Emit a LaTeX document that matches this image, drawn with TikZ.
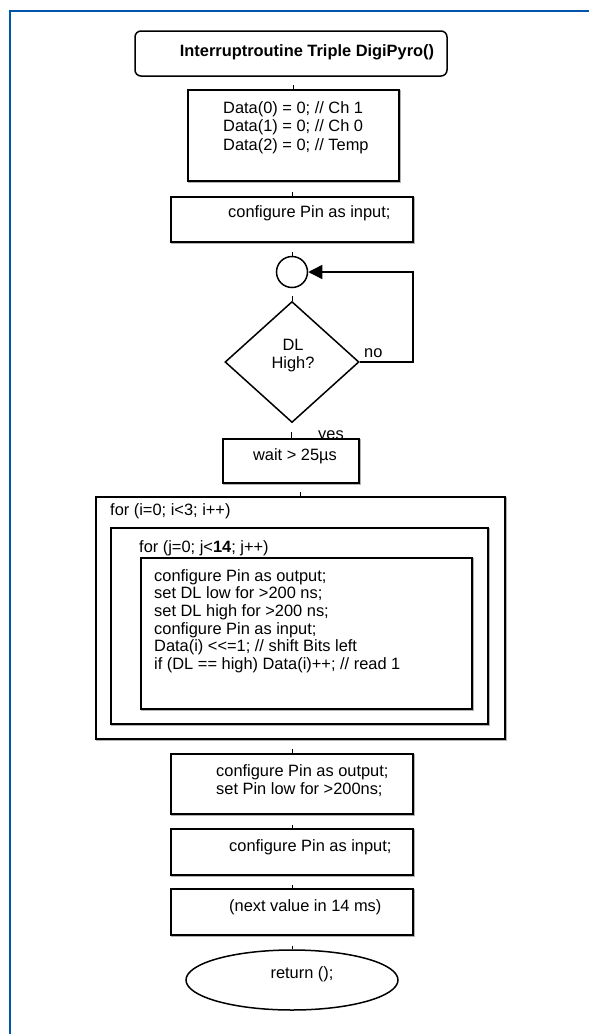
\documentclass[tikz,border=0pt]{standalone}
\usepackage{fontspec}
\setmainfont{Liberation Sans}
\usetikzlibrary{shapes.geometric,arrows.meta}
\definecolor{frameblue}{RGB}{0,85,170}
\tikzset{
  x=1pt, y=-1pt,
  every node/.style={font=\fontsize{16.4}{18.5}\selectfont, inner sep=0pt},
  softshadow/.style={preaction={draw=black!30, line width=1.2pt,
      transform canvas={shift={(1pt,-1pt)}}}},
  stepbox/.style={draw, rectangle, line width=1.5pt, fill=white, softshadow},
  startbox/.style={draw, rectangle, rounded corners=6pt, line width=1.5pt, fill=white},
  decide/.style={draw, diamond, line width=1.5pt, fill=white},
  joint/.style={draw, circle, line width=1.5pt, fill=white},
  endbox/.style={draw, ellipse, line width=1.5pt, fill=white},
  txt/.style={anchor=west, align=left},
  tick/.style={line width=1pt},
  flow/.style={line width=1.5pt, -{Triangle[length=14pt,width=14pt]}}
}
\begin{document}
\begin{tikzpicture}
\useasboundingbox (0,0) rectangle (589,1034);

% page frame
\draw[frameblue, line width=2pt] (589,11) -- (10,11) -- (10,1034);

% start
\node[startbox, minimum width=312pt, minimum height=45pt] (start) at (291,53.5) {};
\node[font=\fontsize{16.4}{18.5}\selectfont\bfseries] (starttxt) at (307,52) {Interruptroutine Triple DigiPyro()};

% clear data
\node[stepbox, minimum width=211pt, minimum height=91pt] (init) at (293.5,135.5) {};
\node[txt] (inittxt) at (223,127.5) {Data(0) = 0; // Ch 1\\Data(1) = 0; // Ch 0\\Data(2) = 0; // Temp};
\draw[tick] (init.north) -- ++(0,-4);

% pin as input
\node[stepbox, minimum width=242pt, minimum height=45pt] (inA) at (292,219.5) {};
\node[txt] (inAtxt) at (228,213) {configure Pin as input;};
\draw[tick] (inA.north) -- ++(0,-4);

% wait loop
\node[joint, minimum size=31pt] (join) at (292,272) {};
\draw[tick] (join.north) -- ++(0,-4);
\node[decide, minimum width=134pt, minimum height=121pt] (dec) at (292,362) {};
\node[align=center] (dectxt) at (293,355.5) {DL\\High?};
\draw[tick] (dec.north) -- ++(0,-5);
\coordinate (loopc) at (413,362);
\draw[flow] (dec.east) -- (loopc) |- (join.east);
\node[anchor=west] (no) at (364,353) {no};
\node (yes) at (331,437) {yes};

% wait
\node[stepbox, minimum width=136pt, minimum height=44pt] (wait) at (291,461) {};
\node (waittxt) at (295,456) {wait > 25µs};
\draw[tick] (wait.north) -- ++(0,-6);

% read loops
\node[stepbox, minimum width=409pt, minimum height=242pt] (outer) at (300.5,618) {};
\node[txt] (outertxt) at (110,511) {for (i=0; i<3; i++)};
\draw[tick] (outer.north) -- ++(0,-4);
\node[stepbox, minimum width=377pt, minimum height=196pt] (inner) at (299.5,626) {};
\node[txt] (innertxt) at (139,548) {for (j=0; j<\textbf{14}; j++)};
\node[stepbox, minimum width=331pt, minimum height=151pt] (body) at (306.5,633.5) {};
\node[txt, font=\fontsize{16.4}{17.6}\selectfont] (bodytxt) at (154,621) {configure Pin as output;\\set DL low for >200 ns;\\set DL high for >200 ns;\\configure Pin as input;\\Data(i) <{}<=1; // shift Bits left\\if (DL == high) Data(i)++; // read 1};

% finish
\node[stepbox, minimum width=242pt, minimum height=60pt] (outB) at (292,784) {};
\node[txt, font=\fontsize{16.4}{18}\selectfont] (outBtxt) at (216,781) {configure Pin as output;\\set Pin low for >200ns;};
\draw[tick] (outB.north) -- ++(0,-4);
\node[stepbox, minimum width=242pt, minimum height=46pt] (inB) at (292,852) {};
\node[txt] (inBtxt) at (229,847) {configure Pin as input;};
\draw[tick] (inB.north) -- ++(0,-3);
\node[stepbox, minimum width=242pt, minimum height=46pt] (next) at (292,912) {};
\node[txt] (nexttxt) at (229,907) {(next value in 14 ms)};
\draw[tick] (next.north) -- ++(0,-3);

% return
\node[endbox, minimum width=212pt, minimum height=60pt] (ret) at (292,980) {};
\node (rettxt) at (302,974) {return ();};
\draw[tick] (ret.north) -- ++(0,-3);
\end{tikzpicture}
\end{document}
